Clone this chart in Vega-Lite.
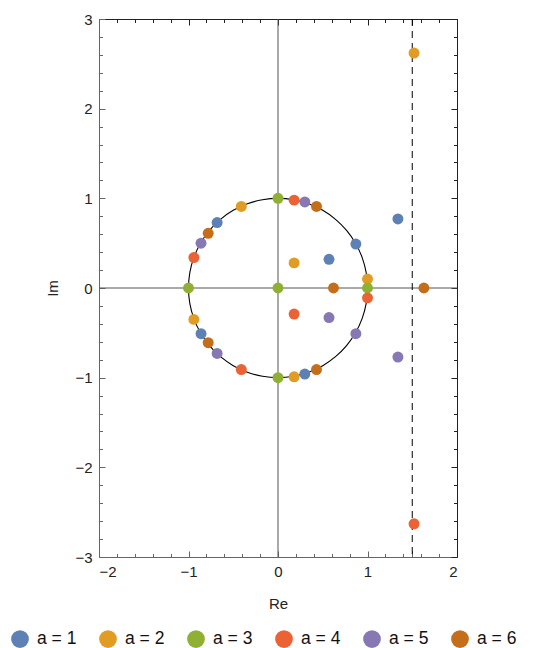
{
  "$schema": "https://vega.github.io/schema/vega-lite/v6.json",
  "width": 358,
  "height": 538,
  "autosize": {"type": "none"},
  "padding": {"left": 99, "top": 19, "right": 87, "bottom": 91},
  "background": "white",
  "config": {
    "view": {"stroke": null},
    "font": "Liberation Sans",
    "axis": {"grid": false, "labelFont": "Liberation Sans", "titleFont": "Liberation Sans", "labelFontSize": 15, "titleFontSize": 15, "titleFontWeight": "normal", "labelColor": "#222", "titleColor": "#222"}
  },
  "datasets": {
    "circle": [
      {"i":0,"re":1,"im":0},{"i":1,"re":0.9848,"im":0.1736},{"i":2,"re":0.9397,"im":0.342},{"i":3,"re":0.866,"im":0.5},{"i":4,"re":0.766,"im":0.6428},{"i":5,"re":0.6428,"im":0.766},{"i":6,"re":0.5,"im":0.866},{"i":7,"re":0.342,"im":0.9397},{"i":8,"re":0.1736,"im":0.9848},{"i":9,"re":0,"im":1},
      {"i":10,"re":-0.1736,"im":0.9848},{"i":11,"re":-0.342,"im":0.9397},{"i":12,"re":-0.5,"im":0.866},{"i":13,"re":-0.6428,"im":0.766},{"i":14,"re":-0.766,"im":0.6428},{"i":15,"re":-0.866,"im":0.5},{"i":16,"re":-0.9397,"im":0.342},{"i":17,"re":-0.9848,"im":0.1736},{"i":18,"re":-1,"im":0},
      {"i":19,"re":-0.9848,"im":-0.1736},{"i":20,"re":-0.9397,"im":-0.342},{"i":21,"re":-0.866,"im":-0.5},{"i":22,"re":-0.766,"im":-0.6428},{"i":23,"re":-0.6428,"im":-0.766},{"i":24,"re":-0.5,"im":-0.866},{"i":25,"re":-0.342,"im":-0.9397},{"i":26,"re":-0.1736,"im":-0.9848},{"i":27,"re":0,"im":-1},
      {"i":28,"re":0.1736,"im":-0.9848},{"i":29,"re":0.342,"im":-0.9397},{"i":30,"re":0.5,"im":-0.866},{"i":31,"re":0.6428,"im":-0.766},{"i":32,"re":0.766,"im":-0.6428},{"i":33,"re":0.866,"im":-0.5},{"i":34,"re":0.9397,"im":-0.342},{"i":35,"re":0.9848,"im":-0.1736},{"i":36,"re":1,"im":0}
    ],
    "roots": [
      {"series":"a = 1","re":-0.68,"im":0.73},{"series":"a = 1","re":0.87,"im":0.49},{"series":"a = 1","re":0.57,"im":0.32},{"series":"a = 1","re":-0.86,"im":-0.51},{"series":"a = 1","re":0.3,"im":-0.96},{"series":"a = 1","re":1.34,"im":0.77},
      {"series":"a = 2","re":-0.41,"im":0.91},{"series":"a = 2","re":0.18,"im":0.28},{"series":"a = 2","re":-0.94,"im":-0.35},{"series":"a = 2","re":0.18,"im":-0.99},{"series":"a = 2","re":1.0,"im":0.1},{"series":"a = 2","re":1.52,"im":2.62},
      {"series":"a = 3","re":0,"im":1},{"series":"a = 3","re":-1,"im":0},{"series":"a = 3","re":0,"im":0},{"series":"a = 3","re":0,"im":-1},{"series":"a = 3","re":1,"im":0},
      {"series":"a = 4","re":0.18,"im":0.98},{"series":"a = 4","re":-0.94,"im":0.34},{"series":"a = 4","re":0.18,"im":-0.29},{"series":"a = 4","re":-0.41,"im":-0.91},{"series":"a = 4","re":1.0,"im":-0.11},{"series":"a = 4","re":1.52,"im":-2.63},
      {"series":"a = 5","re":0.3,"im":0.96},{"series":"a = 5","re":-0.86,"im":0.5},{"series":"a = 5","re":0.57,"im":-0.33},{"series":"a = 5","re":0.87,"im":-0.51},{"series":"a = 5","re":-0.68,"im":-0.73},{"series":"a = 5","re":1.34,"im":-0.77},
      {"series":"a = 6","re":0.43,"im":0.91},{"series":"a = 6","re":-0.78,"im":0.61},{"series":"a = 6","re":0.62,"im":0},{"series":"a = 6","re":-0.78,"im":-0.61},{"series":"a = 6","re":0.43,"im":-0.91},{"series":"a = 6","re":1.63,"im":0}
    ]
  },
  "resolve": {"axis": {"x": "independent", "y": "independent"}},
  "layer": [
    {
      "data": {"values": [{"v": 0}]},
      "mark": {"type": "rule", "color": "#555", "strokeWidth": 1},
      "encoding": {"x": {"field": "v", "type": "quantitative", "scale": {"domain": [-2, 2], "nice": false, "zero": false}, "axis": null}}
    },
    {
      "data": {"values": [{"v": 0}]},
      "mark": {"type": "rule", "color": "#555", "strokeWidth": 1},
      "encoding": {"y": {"field": "v", "type": "quantitative", "scale": {"domain": [-3, 3], "nice": false, "zero": false}, "axis": null}}
    },
    {
      "data": {"values": [{"v": 1.5}]},
      "mark": {"type": "rule", "color": "#000", "strokeWidth": 1, "strokeDash": [7, 5]},
      "encoding": {"x": {"field": "v", "type": "quantitative", "axis": null}}
    },
    {
      "data": {"name": "circle"},
      "mark": {"type": "line", "color": "#000", "strokeWidth": 1.1, "interpolate": "cardinal"},
      "encoding": {
        "x": {"field": "re", "type": "quantitative", "axis": {"orient": "top", "labels": false, "title": null, "domainColor": "#222", "tickColor": "#222", "values": [-2,-1.8,-1.6,-1.4,-1.2,-1,-0.8,-0.6,-0.4,-0.2,0,0.2,0.4,0.6,0.8,1,1.2,1.4,1.5,1.6,1.8,2], "tickSize": {"condition": {"test": "datum.value % 1 === 0 || datum.value === 1.5", "value": -6}, "value": -3.5}}},
        "y": {"field": "im", "type": "quantitative", "axis": {"orient": "right", "labels": false, "title": null, "domainColor": "#222", "tickColor": "#222", "values": [-3,-2.8,-2.6,-2.4,-2.2,-2,-1.8,-1.6,-1.4,-1.2,-1,-0.8,-0.6,-0.4,-0.2,0,0.2,0.4,0.6,0.8,1,1.2,1.4,1.6,1.8,2,2.2,2.4,2.6,2.8,3], "tickSize": {"condition": {"test": "datum.value % 1 === 0", "value": -6}, "value": -3.5}}},
        "order": {"field": "i", "type": "quantitative"}
      }
    },
    {
      "data": {"name": "roots"},
      "mark": {"type": "point", "filled": true, "opacity": 1, "size": 120, "shape": "circle"},
      "encoding": {
        "x": {"field": "re", "type": "quantitative", "axis": {"orient": "bottom", "title": "Re", "titlePadding": 17, "domainColor": "#666", "tickColor": "#666", "labelPadding": 13, "values": [-2,-1.8,-1.6,-1.4,-1.2,-1,-0.8,-0.6,-0.4,-0.2,0,0.2,0.4,0.6,0.8,1,1.2,1.4,1.5,1.6,1.8,2], "labelExpr": "datum.value % 1 === 0 ? replace(format(datum.value, 'd'), '-', '\u2212') : ''", "tickSize": {"condition": {"test": "datum.value % 1 === 0 || datum.value === 1.5", "value": -6}, "value": -3.5}}},
        "y": {"field": "im", "type": "quantitative", "axis": {"orient": "left", "title": "Im", "titlePadding": 14, "domainColor": "#666", "tickColor": "#666", "labelPadding": 13, "values": [-3,-2.8,-2.6,-2.4,-2.2,-2,-1.8,-1.6,-1.4,-1.2,-1,-0.8,-0.6,-0.4,-0.2,0,0.2,0.4,0.6,0.8,1,1.2,1.4,1.6,1.8,2,2.2,2.4,2.6,2.8,3], "labelExpr": "datum.value % 1 === 0 ? replace(format(datum.value, 'd'), '-', '\u2212') : ''", "tickSize": {"condition": {"test": "datum.value % 1 === 0", "value": -6}, "value": -3.5}}},
        "color": {
          "field": "series", "type": "nominal",
          "scale": {"domain": ["a = 1","a = 2","a = 3","a = 4","a = 5","a = 6"], "range": ["#5E81B5","#E19C24","#8FB032","#EB6235","#8778B3","#C56E1A"]},
          "legend": {"title": null, "orient": "none", "direction": "horizontal", "legendX": -88, "legendY": 611, "symbolType": "circle", "symbolSize": 314, "symbolStrokeWidth": 0, "labelFontSize": 17.5, "labelFont": "Liberation Sans", "labelColor": "#111", "labelOffset": 8, "columnPadding": 22, "symbolOpacity": 1}
        }
      }
    }
  ]
}
